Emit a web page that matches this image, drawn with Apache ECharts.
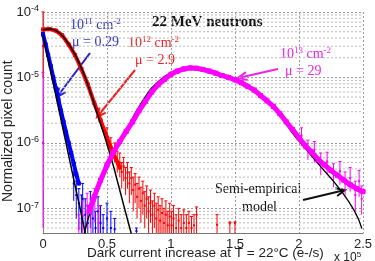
<!DOCTYPE html>
<html>
<head>
<meta charset="utf-8">
<script src="https://cdn.jsdelivr.net/npm/echarts@6/dist/echarts.min.js"></script>
<style>
  html, body { margin: 0; padding: 0; background: #fff; }
  #app { width: 375px; height: 261px; }
</style>
</head>
<body>
<div id="app"></div>
<script>
// x in units of 1e5 e-/s, y = normalized pixel count
const xTicks = [0, 0.5, 1, 1.5, 2, 2.5];
const Y_MIN = 4.2e-8;
const Y_MAX = 1e-4;

// 1e11 cm-2 (mu = 0.29)
const blueData = [
  [0, 4.6e-5], [0.02, 3.2e-5], [0.04, 2.2e-5], [0.06, 1.5e-5], [0.08, 1.0e-5],
  [0.10, 6.8e-6], [0.12, 4.6e-6], [0.14, 3.1e-6], [0.16, 2.1e-6], [0.18, 1.45e-6],
  [0.20, 1.0e-6], [0.22, 7.0e-7], [0.24, 4.8e-7], [0.26, 3.3e-7], [0.28, 2.4e-7]
];
const blueNoise = [
  [0.24, 2.4e-7, 1.3e-7, 3.6e-7], [0.26, 1.6e-7, 7e-8, 2.6e-7], [0.28, 1.2e-7, 5e-8, 2.0e-7],
  [0.30, 9e-8, 4e-8, 1.6e-7], [0.31, 1.4e-7, 6e-8, 2.4e-7], [0.33, 8e-8, 4e-8, 1.4e-7],
  [0.35, 6e-8, 4e-8, 1.1e-7], [0.37, 1.1e-7, 5e-8, 1.8e-7], [0.39, 7e-8, 4e-8, 1.2e-7],
  [0.41, 5e-8, 4e-8, 9e-8], [0.43, 9e-8, 4e-8, 1.5e-7], [0.45, 6e-8, 4e-8, 1.1e-7],
  [0.47, 5e-8, 4e-8, 8e-8], [0.50, 7e-8, 4e-8, 1.2e-7], [0.53, 5e-8, 4e-8, 9e-8],
  [0.56, 4.8e-8, 4e-8, 7e-8], [0.73, 4.5e-8, 4e-8, 5e-8]
];
const blueModel = [
  [0, 4.45e-5], [0.05, 1.54e-5], [0.10, 5.4e-6], [0.15, 1.86e-6], [0.20, 6.5e-7],
  [0.25, 2.25e-7], [0.30, 8.1e-8], [0.33, 4.1e-8]
];

// 1e12 cm-2 (mu = 2.9)
const redData = [
  [0, 5.4e-5], [0.05, 5.5e-5], [0.10, 5.2e-5], [0.15, 4.4e-5], [0.20, 3.2e-5],
  [0.25, 2.2e-5], [0.30, 1.35e-5], [0.35, 7.8e-6], [0.40, 4.1e-6], [0.45, 2.2e-6],
  [0.50, 1.2e-6], [0.55, 6.8e-7], [0.60, 4.2e-7]
];
const redNoise = [
  [0, 3e-5, 1e-5, 1e-4],
  [0.50, 1.3e-6, 9e-7, 1.7e-6], [0.53, 9e-7, 6e-7, 1.2e-6], [0.56, 7.5e-7, 5e-7, 1.0e-6],
  [0.58, 5.5e-7, 3.5e-7, 7.5e-7], [0.60, 5.0e-7, 3e-7, 7e-7], [0.615, 3.6e-7, 2e-7, 5e-7],
  [0.63, 4.4e-7, 2.6e-7, 6e-7], [0.645, 2.9e-7, 1.6e-7, 4.2e-7], [0.66, 3.5e-7, 2e-7, 5e-7],
  [0.675, 2.4e-7, 1.2e-7, 3.6e-7], [0.69, 2.9e-7, 1.6e-7, 4.2e-7], [0.705, 1.9e-7, 9e-8, 3e-7],
  [0.72, 2.3e-7, 1.2e-7, 3.4e-7], [0.735, 1.5e-7, 7e-8, 2.4e-7], [0.75, 2.0e-7, 1e-7, 3e-7],
  [0.765, 1.3e-7, 6e-8, 2.1e-7], [0.78, 1.7e-7, 8e-8, 2.6e-7], [0.795, 1.1e-7, 5e-8, 1.8e-7],
  [0.81, 1.4e-7, 7e-8, 2.2e-7], [0.825, 9e-8, 4e-8, 1.5e-7], [0.84, 1.2e-7, 6e-8, 1.9e-7],
  [0.855, 8e-8, 4e-8, 1.3e-7], [0.87, 1.1e-7, 5e-8, 1.7e-7], [0.885, 7e-8, 4e-8, 1.2e-7],
  [0.90, 9.5e-8, 4e-8, 1.5e-7], [0.915, 6.5e-8, 4e-8, 1.1e-7], [0.93, 8.5e-8, 4e-8, 1.4e-7],
  [0.945, 6e-8, 4e-8, 1.0e-7], [0.96, 8e-8, 4e-8, 1.3e-7], [0.975, 5.5e-8, 4e-8, 9e-8],
  [0.99, 7.5e-8, 4e-8, 1.2e-7], [1.005, 5.5e-8, 4e-8, 9e-8], [1.02, 7e-8, 4e-8, 1.1e-7],
  [1.04, 5e-8, 4e-8, 8e-8], [1.06, 6.5e-8, 4e-8, 1.0e-7], [1.08, 5e-8, 4e-8, 8e-8],
  [1.10, 6e-8, 4e-8, 9.5e-8], [1.12, 5e-8, 4e-8, 8e-8], [1.14, 6e-8, 4e-8, 9e-8],
  [1.16, 5e-8, 4e-8, 7.5e-8], [1.18, 5.5e-8, 4e-8, 8e-8], [1.20, 8e-8, 4e-8, 1.05e-7],
  [1.36, 5.6e-8, 4e-8, 8e-8], [1.46, 5.9e-8, 4e-8, 6.2e-8], [1.50, 6.0e-8, 4e-8, 6.2e-8]
];
const redModel = [
  [0, 5.3e-5], [0.054, 5.5e-5], [0.107, 5.1e-5], [0.153, 4.3e-5], [0.207, 3.1e-5],
  [0.261, 2.05e-5], [0.314, 1.2e-5], [0.360, 6.9e-6], [0.406, 3.6e-6], [0.452, 1.9e-6],
  [0.498, 9.9e-7], [0.544, 4.9e-7], [0.590, 2.25e-7], [0.637, 1.0e-7], [0.690, 4.1e-8]
];

// 1e13 cm-2 (mu = 29)
const magentaData = [
  [0.36, 9e-8], [0.40, 1.5e-7], [0.45, 2.7e-7], [0.50, 4.6e-7], [0.55, 7.2e-7],
  [0.60, 1.05e-6], [0.65, 1.5e-6], [0.70, 2.1e-6], [0.75, 3.1e-6], [0.80, 4.3e-6],
  [0.85, 6e-6], [0.90, 7.8e-6], [0.95, 9.4e-6], [1.00, 1.12e-5], [1.05, 1.25e-5],
  [1.10, 1.35e-5], [1.15, 1.4e-5], [1.20, 1.38e-5], [1.25, 1.32e-5], [1.30, 1.25e-5],
  [1.35, 1.16e-5], [1.40, 1.07e-5], [1.45, 1.0e-5], [1.50, 9.2e-6], [1.55, 8.3e-6],
  [1.60, 7.3e-6], [1.65, 6.4e-6], [1.70, 5.3e-6], [1.75, 4.4e-6], [1.80, 3.6e-6],
  [1.85, 2.8e-6], [1.90, 2.1e-6], [1.95, 1.6e-6], [2.00, 1.2e-6], [2.05, 9e-7],
  [2.10, 7.2e-7], [2.15, 5.6e-7], [2.20, 4.6e-7], [2.25, 3.8e-7], [2.30, 3.2e-7],
  [2.35, 2.7e-7], [2.40, 2.3e-7], [2.45, 2.0e-7], [2.50, 1.8e-7]
];
const magentaNoise = [
  [0, 1e-6, 5e-8, 1.2e-5],
  [0.28, 4.9e-8, 4e-8, 8e-8], [0.31, 7.7e-8, 4e-8, 1.3e-7], [0.345, 1.1e-7, 5e-8, 1.7e-7],
  [0.375, 8.3e-8, 4e-8, 1.4e-7], [0.405, 1.3e-7, 6e-8, 2e-7], [0.437, 6e-8, 4e-8, 1.1e-7],
  [2.02, 1.3e-6, 9e-7, 1.7e-6], [2.07, 8e-7, 5.5e-7, 1.1e-6], [2.12, 7.8e-7, 5e-7, 1.05e-6],
  [2.17, 5e-7, 3.2e-7, 7e-7], [2.22, 5.2e-7, 3.4e-7, 7.2e-7], [2.27, 3.4e-7, 2.1e-7, 4.8e-7],
  [2.32, 3.7e-7, 2.3e-7, 5.2e-7], [2.36, 2.4e-7, 1.5e-7, 3.6e-7], [2.40, 2.9e-7, 1.8e-7, 4.2e-7],
  [2.44, 1.6e-7, 9e-8, 2.6e-7], [2.47, 2.6e-7, 1.5e-7, 3.8e-7], [2.49, 1.4e-7, 8e-8, 2.2e-7]
];
const magentaModel = [
  [0.322, 4.1e-8], [0.399, 1.32e-7], [0.514, 4.5e-7], [0.629, 1.3e-6], [0.782, 4.5e-6],
  [0.897, 8.5e-6], [1.012, 1.2e-5], [1.127, 1.39e-5], [1.242, 1.29e-5], [1.357, 1.12e-5],
  [1.511, 9.1e-6], [1.626, 6.9e-6], [1.741, 4.5e-6], [1.856, 2.65e-6], [1.933, 1.56e-6],
  [2.048, 8.3e-7], [2.163, 4.5e-7], [2.316, 2.0e-7], [2.431, 9.3e-8], [2.492, 4.9e-8]
];

const BLUE = '#0000ff', RED = '#ff0000', MAG = '#ff00ff';
const FONT = 'Liberation Sans, Arial, sans-serif';
const SERIF = 'Liberation Serif, Times New Roman, serif';

// log minor grid lines at 2..9 x 10^n
const minorLines = [];
for (let e = -8; e <= -5; e++) {
  for (let m = 2; m <= 9; m++) {
    const v = m * Math.pow(10, e);
    if (v > Y_MIN && v < Y_MAX) minorLines.push([0, v]);
  }
}

function minorGrid(params, api) {
  const cs = params.coordSys;
  const y = api.coord([0, api.value(1)])[1];
  return {
    type: 'line',
    shape: { x1: cs.x, y1: y, x2: cs.x + cs.width, y2: y },
    style: { stroke: '#bbb', lineWidth: 1, lineDash: [2, 2] }
  };
}

function errBar(params, api) {
  const x = api.value(0);
  const p = api.coord([x, api.value(1)]);
  const pl = api.coord([x, Math.max(api.value(2), Y_MIN)]);
  const ph = api.coord([x, Math.min(api.value(3), Y_MAX)]);
  const c = api.visual('color');
  return {
    type: 'group',
    children: [
      { type: 'line', shape: { x1: p[0], y1: pl[1], x2: p[0], y2: ph[1] }, style: { stroke: c, lineWidth: 1 } },
      { type: 'line', shape: { x1: p[0] - 1.5, y1: ph[1], x2: p[0] + 1.5, y2: ph[1] }, style: { stroke: c, lineWidth: 1 } },
      { type: 'rect', shape: { x: p[0] - 1, y: p[1] - 1, width: 2, height: 2 }, style: { fill: c } }
    ]
  };
}

// thick data band: segment from the previous point to this one
function band(arr, w) {
  return function (params, api) {
    const i = params.dataIndex;
    const c = api.visual('color');
    const p = api.coord([api.value(0), api.value(1)]);
    const kids = [{ type: 'rect', shape: { x: p[0] - w / 2, y: p[1] - w / 2, width: w, height: w }, style: { fill: c } }];
    if (i > 0) {
      const q = api.coord(arr[i - 1]);
      kids.push({ type: 'line', shape: { x1: q[0], y1: q[1], x2: p[0], y2: p[1] }, style: { stroke: c, lineWidth: w, lineCap: 'round' } });
    }
    return { type: 'group', children: kids };
  };
}

function arrow(x1, y1, x2, y2, color) {
  const a = Math.atan2(y2 - y1, x2 - x1);
  const L = 9, W = 4;
  const bx = x2 - L * Math.cos(a), by = y2 - L * Math.sin(a);
  return [
    { type: 'line', shape: { x1: x1, y1: y1, x2: x2, y2: y2 }, style: { stroke: color, lineWidth: 2 } },
    {
      type: 'polyline',
      shape: { points: [[bx - W * Math.sin(a), by + W * Math.cos(a)], [x2, y2], [bx + W * Math.sin(a), by - W * Math.cos(a)]] },
      style: { stroke: color, lineWidth: 2, fill: null }
    }
  ];
}

function label(x, y, text, color) {
  return {
    type: 'text', left: x, top: y,
    style: {
      text: text, fill: color, font: '14px ' + SERIF,
      rich: {
        n: { fontSize: 14, fontFamily: SERIF, fill: color, lineHeight: 16 },
        s: { fontSize: 9, fontFamily: SERIF, fill: color, verticalAlign: 'top', lineHeight: 16 }
      }
    }
  };
}

const myChart = echarts.init(document.getElementById('app'), null, { renderer: 'canvas' });

const option = {
  animation: false,
  backgroundColor: '#fff',
  grid: { left: 43, right: 6, top: 12, bottom: 28 },
  xAxis: {
    type: 'value',
    min: 0,
    max: 2.5,
    interval: 0.5,
    axisLine: { lineStyle: { color: '#777', width: 1 } },
    axisTick: { show: false },
    axisLabel: {
      color: '#222', fontSize: 13, fontFamily: FONT, margin: 5,
      formatter: v => (xTicks.indexOf(v) >= 0 ? String(v) : '')
    },
    splitLine: { show: true, lineStyle: { color: '#999', type: [2, 2], width: 1 } }
  },
  yAxis: {
    type: 'log',
    logBase: 10,
    min: Y_MIN,
    max: Y_MAX,
    axisLine: { show: true, lineStyle: { color: '#777', width: 1 } },
    axisTick: { show: false },
    axisLabel: {
      color: '#222', margin: 4,
      formatter: v => {
        const e = Math.round(Math.log10(v));
        if (Math.abs(Math.log10(v) - e) > 0.01) return '';
        return '{b|10}{s|' + e + '}';
      },
      rich: {
        b: { fontSize: 13, fontFamily: FONT, color: '#222', lineHeight: 15 },
        s: { fontSize: 9, fontFamily: FONT, color: '#222', verticalAlign: 'top', lineHeight: 15 }
      }
    },
    splitLine: { show: true, lineStyle: { color: '#999', type: [2, 2], width: 1 } }
  },
  graphic: [
    { type: 'text', left: 152, top: 15, style: { text: '22 MeV neutrons', fill: '#111', font: 'bold 15px ' + SERIF } },
    label(70, 17, '{n|10}{s|11}{n| cm}{s|-2}', '#3333cc'),
    label(72, 35, '{n|μ = 0.29}', '#3333cc'),
    label(128, 35, '{n|10}{s|12}{n| cm}{s|-2}', '#ee2222'),
    label(135, 53, '{n|μ = 2.9}', '#ee2222'),
    label(280, 46, '{n|10}{s|13}{n| cm}{s|-2}', '#ee22ee'),
    label(285, 64, '{n|μ = 29}', '#ee22ee'),
    { type: 'text', left: 215, top: 182, style: { text: 'Semi-empirical', fill: '#111', font: '14px ' + SERIF } },
    { type: 'text', left: 242, top: 200, style: { text: 'model', fill: '#111', font: '14px ' + SERIF } },
    ...arrow(90, 53, 57, 97, '#2222cc'),
    ...arrow(135, 70, 97, 117, '#ee2222'),
    ...arrow(278, 69, 238, 78, '#ee22ee'),
    ...arrow(303, 200, 345, 190, '#111'),
    { type: 'text', left: 87, top: 246, style: { text: 'Dark current increase at T = 22°C (e-/s)', fill: '#222', font: '13.5px ' + FONT } },
    {
      type: 'text', left: 334, top: 251,
      style: {
        text: '{b|x 10}{s|5}', fill: '#222',
        rich: {
          b: { fontSize: 12, fontFamily: FONT, fill: '#222', lineHeight: 14 },
          s: { fontSize: 8, fontFamily: FONT, fill: '#222', verticalAlign: 'top', lineHeight: 14 }
        }
      }
    },
    {
      type: 'text', x: 1, y: 202, rotation: Math.PI / 2,
      style: { text: 'Normalized pixel count', fill: '#222', font: '14px ' + FONT }
    }
  ],
  series: [
    { name: 'grid-minor', type: 'custom', renderItem: minorGrid, data: minorLines, encode: { x: 0, y: 1 }, silent: true, z: 1 },
    { name: 'blue-err', type: 'custom', renderItem: errBar, data: blueNoise, itemStyle: { color: BLUE }, encode: { x: 0, y: 1 }, z: 5 },
    { name: 'red-err', type: 'custom', renderItem: errBar, data: redNoise, itemStyle: { color: RED }, encode: { x: 0, y: 1 }, z: 5 },
    { name: 'magenta-err', type: 'custom', renderItem: errBar, data: magentaNoise, itemStyle: { color: MAG }, encode: { x: 0, y: 1 }, z: 5 },
    { name: 'd11', type: 'custom', renderItem: band(blueData, 4), data: blueData, itemStyle: { color: BLUE }, encode: { x: 0, y: 1 }, z: 6 },
    { name: 'd12', type: 'custom', renderItem: band(redData, 4), data: redData, itemStyle: { color: RED }, encode: { x: 0, y: 1 }, z: 6 },
    { name: 'model11', type: 'line', data: blueModel, smooth: true, showSymbol: false, lineStyle: { color: '#000', width: 1.5 }, z: 8 },
    { name: 'model12', type: 'line', data: redModel, smooth: true, showSymbol: false, lineStyle: { color: '#000', width: 1.5 }, z: 8 },
    { name: 'model13', type: 'line', data: magentaModel, smooth: true, showSymbol: false, lineStyle: { color: '#000', width: 1.3 }, z: 8 },
    { name: 'd13', type: 'custom', renderItem: band(magentaData, 5), data: magentaData, itemStyle: { color: MAG }, encode: { x: 0, y: 1 }, z: 20 }
  ]
};

myChart.setOption(option);
</script>
</body>
</html>
